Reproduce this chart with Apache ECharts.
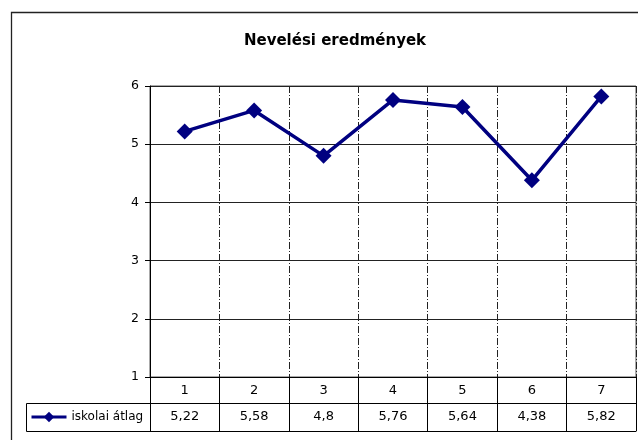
<!DOCTYPE html>
<html>
<head>
<meta charset="utf-8">
<script src="https://cdn.jsdelivr.net/npm/echarts@6/dist/echarts.min.js"></script>
<style>
html,body{margin:0;padding:0;background:#fff;}
#chart{width:638px;height:440px;}
</style>
</head>
<body>
<div id="chart"></div>
<script>
var title = 'Nevelési eredmények';
var categories = ['1', '2', '3', '4', '5', '6', '7'];
var seriesName = 'iskolai átlag';
var values = [5.22, 5.58, 4.8, 5.76, 5.64, 4.38, 5.82];
var yMin = 1, yMax = 6, yStep = 1;

var valueLabels = values.map(function (v) { return String(v).replace('.', ','); });
var FONT = 'DejaVu Sans';

var chart = echarts.init(document.getElementById('chart'), null, {renderer: 'canvas'});
var option = {
  animation: false,
  backgroundColor: '#fff',
  title: {
    text: title, left: 330, top: 29, textAlign: 'center',
    textStyle: {fontFamily: FONT, fontSize: 15, fontWeight: 'bold', color: '#000'}
  },
  grid: {left: 150, right: 2, top: 86, bottom: 63, show: true, borderColor: '#555', borderWidth: 1, containLabel: false},
  legend: {
    data: [seriesName], left: 30, top: 411, padding: 0,
    itemWidth: 35, itemHeight: 13, itemGap: 5,
    lineStyle: {width: 3},
    textStyle: {fontFamily: FONT, fontSize: 12, color: '#000'}
  },
  xAxis: [
    {
      type: 'category', data: categories, boundaryGap: true, position: 'bottom',
      axisLine: {show: true, lineStyle: {color: '#000', width: 1}},
      axisTick: {show: true, length: 54, alignWithLabel: false, lineStyle: {color: '#000'}},
      axisLabel: {margin: 7, fontFamily: FONT, fontSize: 13, color: '#000'},
      splitLine: {show: true, lineStyle: {color: '#222', width: 1, type: [7, 2, 1, 2]}}
    },
    {
      type: 'category', data: valueLabels, boundaryGap: true, position: 'bottom', offset: 26,
      axisLine: {show: true, lineStyle: {color: '#000', width: 1}},
      axisTick: {show: false},
      axisLabel: {margin: 7, fontFamily: FONT, fontSize: 13, color: '#000'},
      splitLine: {show: false}
    },
    {
      type: 'category', data: categories, boundaryGap: true, position: 'bottom', offset: 54,
      axisLine: {show: true, lineStyle: {color: '#000', width: 1}},
      axisTick: {show: false}, axisLabel: {show: false}, splitLine: {show: false}
    }
  ],
  yAxis: {
    type: 'value', min: yMin, max: yMax, interval: yStep,
    axisLine: {show: true, lineStyle: {color: '#000', width: 1}},
    axisTick: {show: true, inside: false, length: 5, lineStyle: {color: '#000'}},
    axisLabel: {margin: 11, fontFamily: FONT, fontSize: 12.5, color: '#000'},
    splitLine: {show: true, lineStyle: {color: '#222', width: 1}}
  },
  series: [{
    name: seriesName, type: 'line', xAxisIndex: 0, data: values,
    symbol: 'diamond', symbolSize: 16,
    lineStyle: {color: '#000080', width: 3.5},
    itemStyle: {color: '#000080'}
  }],
  graphic: [
    {type: 'rect', silent: true, shape: {x: 11.5, y: 12.5, width: 700, height: 500},
     style: {fill: null, stroke: '#222', lineWidth: 1.3}},
    {type: 'rect', silent: true, shape: {x: 26.5, y: 403.5, width: 124, height: 28},
     style: {fill: null, stroke: '#000', lineWidth: 1}, z: -1}
  ]
};
chart.setOption(option);
</script>
</body>
</html>
